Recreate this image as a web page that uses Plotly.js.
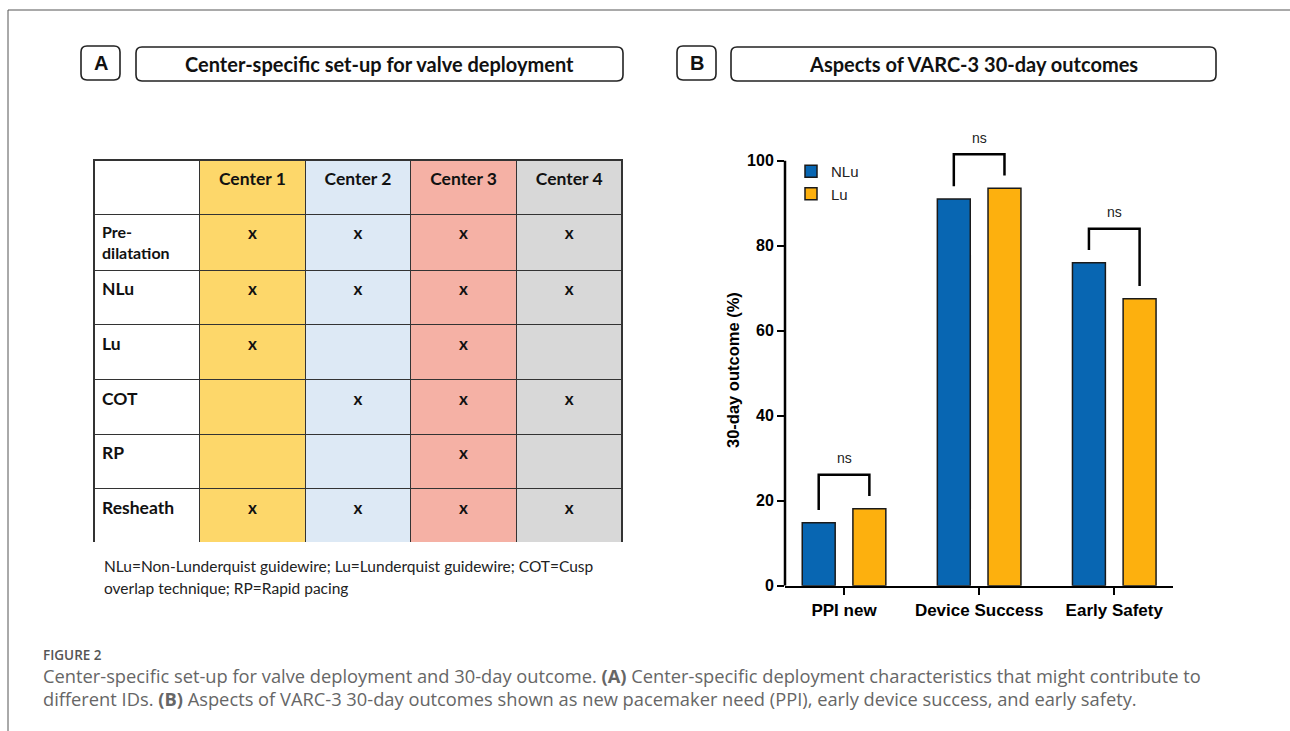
<!DOCTYPE html>
<html>
<head>
<meta charset="utf-8">
<script src="https://cdn.plot.ly/plotly-3.0.1.min.js"></script>
<style>
  html, body { margin: 0; padding: 0; background: #ffffff; }
  #chart { width: 1290px; height: 731px; }
</style>
</head>
<body>
<div id="chart"></div>
<script>
// ---------- Data ----------
const categories = ['PPI new', 'Device Success', 'Early Safety'];
const nluValues = [14.8, 91.0, 76.0];
const luValues = [18.1, 93.5, 67.5];
const sigLabels = ['ns', 'ns', 'ns'];
const seriesNames = ['NLu', 'Lu'];
const yTicks = [0, 20, 40, 60, 80, 100];

const tableHeader = ['', 'Center 1', 'Center 2', 'Center 3', 'Center 4'];
const rowLabels = ['Pre-<br>dilatation', 'NLu', 'Lu', 'COT', 'RP', 'Resheath'];
const center1 = ['x', 'x', 'x', '', '', 'x'];
const center2 = ['x', 'x', '', 'x', '', 'x'];
const center3 = ['x', 'x', 'x', 'x', 'x', 'x'];
const center4 = ['x', 'x', '', 'x', '', 'x'];

const panelALetter = 'A';
const panelATitle = 'Center-specific set-up for valve deployment';
const panelBLetter = 'B';
const panelBTitle = 'Aspects of VARC-3 30-day outcomes';
const yTitle = '30-day outcome (%)';
const tableNote1 = 'NLu=Non-Lunderquist guidewire; Lu=Lunderquist guidewire; COT=Cusp';
const tableNote2 = 'overlap technique; RP=Rapid pacing';
const figLabel = 'FIGURE 2';
const caption1 = 'Center-specific set-up for valve deployment and 30-day outcome. <b>(A)</b> Center-specific deployment characteristics that might contribute to';
const caption2 = 'different IDs. <b>(B)</b> Aspects of VARC-3 30-day outcomes shown as new pacemaker need (PPI), early device success, and early safety.';

// ---------- Helpers (pixel -> paper) ----------
const W = 1290, H = 731;
const PX = v => v / W;
const PY = v => 1 - v / H;
function roundRect(x0, y0, x1, y1, r) {
  return `M${PX(x0 + r)},${PY(y0)} L${PX(x1 - r)},${PY(y0)} Q${PX(x1)},${PY(y0)} ${PX(x1)},${PY(y0 + r)} ` +
         `L${PX(x1)},${PY(y1 - r)} Q${PX(x1)},${PY(y1)} ${PX(x1 - r)},${PY(y1)} ` +
         `L${PX(x0 + r)},${PY(y1)} Q${PX(x0)},${PY(y1)} ${PX(x0)},${PY(y1 - r)} ` +
         `L${PX(x0)},${PY(y0 + r)} Q${PX(x0)},${PY(y0)} ${PX(x0 + r)},${PY(y0)} Z`;
}

const BLUE = '#0866B2';
const ORANGE = '#FDB00E';
const BARGAP = 0.25;
const BARGROUPGAP = 0.35;

const tickFont = { family: 'Liberation Sans, Arial, sans-serif', size: 16, color: '#000', weight: 'bold' };
const catFont = { family: 'Liberation Sans, Arial, sans-serif', size: 17, color: '#000', weight: 'bold' };

// ---------- Traces ----------
const colFills = ['#FFFFFF', '#FDD76A', '#DDE9F5', '#F5B1A5', '#D8D8D8'];
const bold = arr => arr.map(v => v ? '<b>' + v + '</b>' : '');
// label column: two-line label slightly smaller so its row keeps the common height
const labelSizes = rowLabels.map(l => l.indexOf('<br>') >= 0 ? 16 : 17.5);

const tableTrace = {
  type: 'table',
  domain: { x: [PX(94), PX(622)], y: [PY(543), PY(160)] },
  columnwidth: [1, 1, 1, 1, 1],
  header: {
    values: bold(tableHeader),
    align: 'center',
    height: 54.3,
    fill: { color: colFills },
    line: { color: '#333', width: 1.2 },
    font: { family: 'Lato, sans-serif', size: 17.5, color: '#111' }
  },
  cells: {
    values: [bold(rowLabels), bold(center1), bold(center2), bold(center3), bold(center4)],
    align: ['left', 'center', 'center', 'center', 'center'],
    height: 54.7,
    fill: { color: colFills },
    line: { color: '#333', width: 1.2 },
    font: { family: 'Lato, sans-serif', size: [labelSizes, 17, 17, 17, 17], color: '#111' }
  }
};

const nluTrace = {
  type: 'bar', name: seriesNames[0], x: categories, y: nluValues,
  marker: { color: BLUE, line: { color: '#1a1a1a', width: 1.5 } },
  xaxis: 'x', yaxis: 'y', hoverinfo: 'skip'
};
const luTrace = {
  type: 'bar', name: seriesNames[1], x: categories, y: luValues,
  marker: { color: ORANGE, line: { color: '#1a1a1a', width: 1.5 } },
  xaxis: 'x', yaxis: 'y', hoverinfo: 'skip'
};

// ---------- Shapes & annotations ----------
const shapes = [];
const annotations = [];

// outer frame
shapes.push({ type: 'line', xref: 'paper', yref: 'paper', x0: PX(8), x1: PX(8), y0: PY(10), y1: PY(731), line: { color: '#555', width: 1 } });
shapes.push({ type: 'line', xref: 'paper', yref: 'paper', x0: PX(8), x1: PX(1290), y0: PY(10), y1: PY(10), line: { color: '#555', width: 1 } });

// panel header boxes
[[81, 46, 120, 80], [136, 47, 623, 81], [677, 46, 716, 80], [731, 47, 1216, 81]].forEach(b => {
  shapes.push({ type: 'path', xref: 'paper', yref: 'paper', path: roundRect(b[0], b[1], b[2], b[3], 6), line: { color: '#222', width: 1.6 }, fillcolor: 'rgba(0,0,0,0)' });
});
const hdrFont = { family: 'Lato, sans-serif', size: 20, color: '#111', weight: 'bold' };
const letterFont = { family: 'Liberation Sans, Arial', size: 20, color: '#111', weight: 'bold' };
annotations.push({ xref: 'paper', yref: 'paper', x: PX(100.5), y: PY(63), text: panelALetter, showarrow: false, xanchor: 'center', yanchor: 'middle', font: letterFont });
annotations.push({ xref: 'paper', yref: 'paper', x: PX(379.5), y: PY(64), text: panelATitle, showarrow: false, xanchor: 'center', yanchor: 'middle', font: hdrFont });
annotations.push({ xref: 'paper', yref: 'paper', x: PX(696.5), y: PY(63), text: panelBLetter, showarrow: false, xanchor: 'center', yanchor: 'middle', font: letterFont });
annotations.push({ xref: 'paper', yref: 'paper', x: PX(973.5), y: PY(64), text: panelBTitle, showarrow: false, xanchor: 'center', yanchor: 'middle', font: hdrFont });

// table note
const noteFont = { family: 'Lato, sans-serif', size: 15.5, color: '#222' };
annotations.push({ xref: 'paper', yref: 'paper', x: PX(102), y: PY(566), text: tableNote1, showarrow: false, xanchor: 'left', yanchor: 'middle', font: noteFont });
annotations.push({ xref: 'paper', yref: 'paper', x: PX(102), y: PY(588), text: tableNote2, showarrow: false, xanchor: 'left', yanchor: 'middle', font: noteFont });

// caption
annotations.push({ xref: 'paper', yref: 'paper', x: PX(41), y: PY(655), text: figLabel, showarrow: false, xanchor: 'left', yanchor: 'middle', font: { family: 'Open Sans, sans-serif', size: 13.5, color: '#555', weight: 600 } });
const capFont = { family: 'Open Sans, sans-serif', size: 18.3, color: '#666' };
annotations.push({ xref: 'paper', yref: 'paper', x: PX(41), y: PY(675), text: caption1, showarrow: false, xanchor: 'left', yanchor: 'middle', font: capFont });
annotations.push({ xref: 'paper', yref: 'paper', x: PX(41), y: PY(698), text: caption2, showarrow: false, xanchor: 'left', yanchor: 'middle', font: capFont });

// y axis line (0..100) and title
shapes.push({ type: 'line', xref: 'paper', yref: 'y', x0: PX(785), x1: PX(785), y0: yTicks[0], y1: yTicks[yTicks.length - 1], line: { color: '#000', width: 2.5 } });
annotations.push({ xref: 'paper', yref: 'paper', x: PX(733), y: PY(370), text: yTitle, textangle: -90, showarrow: false, xanchor: 'center', yanchor: 'middle', font: { family: 'Liberation Sans, Arial', size: 16.5, color: '#000', weight: 'bold' } });

// significance brackets
const off = (1 - BARGAP) / 4;
categories.forEach((c, i) => {
  const l = nluValues[i] + 3, r = luValues[i] + 3;
  const top = Math.max(nluValues[i], luValues[i]) + 8;
  shapes.push({ type: 'path', xref: 'x', yref: 'y', path: `M${i - off},${l} L${i - off},${top} L${i + off},${top} L${i + off},${r}`, line: { color: '#000', width: 2.5 } });
  annotations.push({ xref: 'x', yref: 'y', x: i, y: top + 1.5, text: sigLabels[i], showarrow: false, xanchor: 'center', yanchor: 'bottom', font: { family: 'Liberation Sans, Arial', size: 14, color: '#222' } });
});

const layout = {
  width: W, height: H,
  margin: { l: 0, r: 0, t: 0, b: 0 },
  paper_bgcolor: '#ffffff', plot_bgcolor: 'rgba(0,0,0,0)',
  barmode: 'group', bargap: BARGAP, bargroupgap: BARGROUPGAP,
  showlegend: true,
  legend: { x: PX(791), y: PY(155), xanchor: 'left', yanchor: 'top', bgcolor: 'rgba(0,0,0,0)', font: { family: 'Liberation Sans, Arial', size: 15, color: '#222' }, itemclick: false },
  xaxis: {
    domain: [PX(785), PX(1173.3)], type: 'category', range: [-0.437, 2.437],
    showline: true, linecolor: '#000', linewidth: 2.5,
    ticks: 'outside', ticklen: 7, tickwidth: 2, tickcolor: '#000',
    showgrid: false, zeroline: false, tickfont: catFont, fixedrange: true
  },
  yaxis: {
    domain: [PY(585.7), PY(139.5)], range: [0, 105],
    tickvals: yTicks, ticktext: yTicks.map(String),
    showline: false, ticks: 'outside', ticklen: 7, tickwidth: 2, tickcolor: '#000',
    showgrid: false, zeroline: false, tickfont: tickFont, fixedrange: true
  },
  shapes: shapes,
  annotations: annotations
};

Plotly.newPlot('chart', [tableTrace, nluTrace, luTrace], layout, { displayModeBar: false, staticPlot: true });
</script>
</body>
</html>
